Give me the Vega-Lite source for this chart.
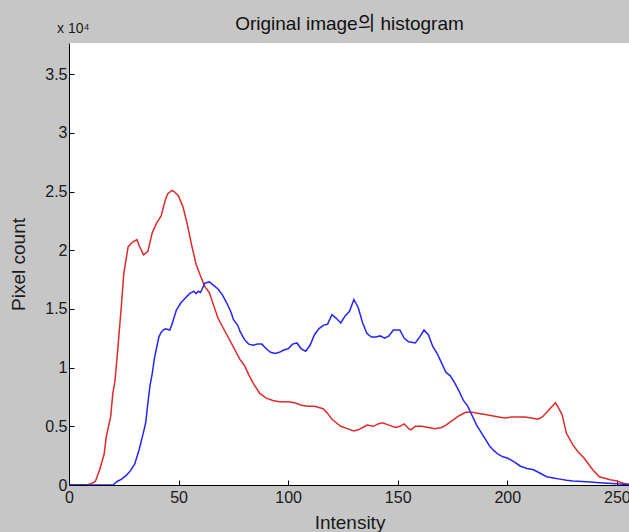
{
  "$schema": "https://vega.github.io/schema/vega-lite/v6.json",
  "autosize": {"type": "none"},
  "width": 561,
  "height": 442,
  "padding": {"left": 69, "top": 43, "right": 0, "bottom": 47},
  "background": "#c6c6c6",
  "title": {
    "text": "Original image의 histogram",
    "font": "Liberation Sans, Noto Sans CJK KR",
    "fontSize": 19,
    "fontWeight": "normal",
    "color": "#111111",
    "anchor": "middle",
    "offset": -12
  },
  "config": {
    "view": {"fill": "white", "stroke": null},
    "font": "Liberation Sans",
    "axis": {
      "domainColor": "#000000",
      "domainWidth": 1,
      "tickColor": "#000000",
      "tickSize": -5,
      "grid": false,
      "labelFont": "Liberation Sans",
      "labelFontSize": 16,
      "labelColor": "#1a1a1a",
      "titleFont": "Liberation Sans",
      "titleFontSize": 19,
      "titleFontWeight": "normal",
      "titleColor": "#1a1a1a"
    }
  },
  "datasets": {
    "red": [
      {"intensity": 0, "count": 0}, {"intensity": 8, "count": 0}, {"intensity": 10, "count": 100},
      {"intensity": 12, "count": 300}, {"intensity": 14, "count": 1300}, {"intensity": 16, "count": 2600},
      {"intensity": 17, "count": 4100}, {"intensity": 19, "count": 5800}, {"intensity": 20, "count": 7800},
      {"intensity": 21, "count": 8900}, {"intensity": 22, "count": 11000}, {"intensity": 24, "count": 15500},
      {"intensity": 25, "count": 18000}, {"intensity": 27, "count": 20300}, {"intensity": 29, "count": 20700},
      {"intensity": 31, "count": 20900}, {"intensity": 32, "count": 20400}, {"intensity": 34, "count": 19600},
      {"intensity": 36, "count": 19900}, {"intensity": 38, "count": 21500}, {"intensity": 40, "count": 22300},
      {"intensity": 42, "count": 22900}, {"intensity": 44, "count": 24300}, {"intensity": 45, "count": 24800},
      {"intensity": 47, "count": 25100}, {"intensity": 48, "count": 25000}, {"intensity": 50, "count": 24600},
      {"intensity": 52, "count": 23700}, {"intensity": 54, "count": 22200}, {"intensity": 56, "count": 20400},
      {"intensity": 58, "count": 18800}, {"intensity": 60, "count": 17800}, {"intensity": 62, "count": 16900},
      {"intensity": 64, "count": 16400}, {"intensity": 66, "count": 15300}, {"intensity": 68, "count": 14200},
      {"intensity": 70, "count": 13500}, {"intensity": 72, "count": 12800}, {"intensity": 74, "count": 12100},
      {"intensity": 76, "count": 11400}, {"intensity": 78, "count": 10700}, {"intensity": 80, "count": 10200},
      {"intensity": 82, "count": 9400}, {"intensity": 84, "count": 8700}, {"intensity": 87, "count": 7800},
      {"intensity": 90, "count": 7400}, {"intensity": 93, "count": 7200}, {"intensity": 96, "count": 7100},
      {"intensity": 100, "count": 7100}, {"intensity": 103, "count": 7000}, {"intensity": 106, "count": 6800},
      {"intensity": 109, "count": 6700}, {"intensity": 112, "count": 6700}, {"intensity": 114, "count": 6600},
      {"intensity": 116, "count": 6500}, {"intensity": 118, "count": 6100}, {"intensity": 120, "count": 5600},
      {"intensity": 122, "count": 5300}, {"intensity": 124, "count": 5000}, {"intensity": 127, "count": 4800},
      {"intensity": 130, "count": 4600}, {"intensity": 132, "count": 4700}, {"intensity": 134, "count": 4900},
      {"intensity": 136, "count": 5100}, {"intensity": 139, "count": 5000}, {"intensity": 141, "count": 5200},
      {"intensity": 143, "count": 5300}, {"intensity": 146, "count": 5100}, {"intensity": 149, "count": 4900},
      {"intensity": 151, "count": 5000}, {"intensity": 153, "count": 5200}, {"intensity": 155, "count": 4800},
      {"intensity": 156, "count": 4700}, {"intensity": 158, "count": 5000}, {"intensity": 161, "count": 5000},
      {"intensity": 164, "count": 4900}, {"intensity": 167, "count": 4800}, {"intensity": 170, "count": 4900},
      {"intensity": 172, "count": 5100}, {"intensity": 175, "count": 5500}, {"intensity": 178, "count": 5900},
      {"intensity": 181, "count": 6200}, {"intensity": 184, "count": 6200}, {"intensity": 187, "count": 6100},
      {"intensity": 190, "count": 6000}, {"intensity": 193, "count": 5900}, {"intensity": 196, "count": 5800},
      {"intensity": 199, "count": 5700}, {"intensity": 202, "count": 5800}, {"intensity": 205, "count": 5800},
      {"intensity": 208, "count": 5800}, {"intensity": 211, "count": 5700}, {"intensity": 214, "count": 5600},
      {"intensity": 216, "count": 5800}, {"intensity": 218, "count": 6200}, {"intensity": 220, "count": 6600},
      {"intensity": 222, "count": 7000}, {"intensity": 223, "count": 6700}, {"intensity": 225, "count": 6000},
      {"intensity": 227, "count": 4400}, {"intensity": 230, "count": 3400}, {"intensity": 232, "count": 2900},
      {"intensity": 235, "count": 2300}, {"intensity": 239, "count": 1300}, {"intensity": 242, "count": 700},
      {"intensity": 244, "count": 600}, {"intensity": 247, "count": 450}, {"intensity": 250, "count": 350},
      {"intensity": 253, "count": 150}, {"intensity": 256, "count": 50}
    ],
    "blue": [
      {"intensity": 0, "count": 0}, {"intensity": 20, "count": 0}, {"intensity": 22, "count": 300},
      {"intensity": 24, "count": 500}, {"intensity": 26, "count": 800}, {"intensity": 28, "count": 1200},
      {"intensity": 30, "count": 1800}, {"intensity": 32, "count": 3000}, {"intensity": 34, "count": 4500},
      {"intensity": 35, "count": 5300}, {"intensity": 36, "count": 7000}, {"intensity": 37, "count": 8500},
      {"intensity": 38, "count": 9500}, {"intensity": 39, "count": 10800}, {"intensity": 41, "count": 12600},
      {"intensity": 42, "count": 13000}, {"intensity": 43, "count": 13200}, {"intensity": 44, "count": 13300},
      {"intensity": 46, "count": 13200}, {"intensity": 47, "count": 13700}, {"intensity": 49, "count": 14900},
      {"intensity": 51, "count": 15500}, {"intensity": 53, "count": 15900}, {"intensity": 55, "count": 16300},
      {"intensity": 57, "count": 16500}, {"intensity": 58, "count": 16300}, {"intensity": 59, "count": 16500},
      {"intensity": 60, "count": 16400}, {"intensity": 62, "count": 17200}, {"intensity": 64, "count": 17300},
      {"intensity": 66, "count": 17000}, {"intensity": 68, "count": 16700}, {"intensity": 70, "count": 16200},
      {"intensity": 72, "count": 15500}, {"intensity": 74, "count": 14700}, {"intensity": 75, "count": 14100},
      {"intensity": 77, "count": 13600}, {"intensity": 78, "count": 13100}, {"intensity": 80, "count": 12400},
      {"intensity": 82, "count": 12000}, {"intensity": 84, "count": 11900}, {"intensity": 86, "count": 12000},
      {"intensity": 88, "count": 12000}, {"intensity": 90, "count": 11600}, {"intensity": 92, "count": 11300},
      {"intensity": 94, "count": 11200}, {"intensity": 96, "count": 11300}, {"intensity": 98, "count": 11500},
      {"intensity": 100, "count": 11600}, {"intensity": 102, "count": 12000}, {"intensity": 104, "count": 12100},
      {"intensity": 106, "count": 11600}, {"intensity": 108, "count": 11400}, {"intensity": 110, "count": 11900},
      {"intensity": 112, "count": 12800}, {"intensity": 114, "count": 13300}, {"intensity": 116, "count": 13600},
      {"intensity": 118, "count": 13700}, {"intensity": 120, "count": 14500}, {"intensity": 122, "count": 14200},
      {"intensity": 124, "count": 13800}, {"intensity": 126, "count": 14400}, {"intensity": 128, "count": 14800},
      {"intensity": 130, "count": 15800}, {"intensity": 132, "count": 15100}, {"intensity": 134, "count": 13800},
      {"intensity": 136, "count": 12900}, {"intensity": 138, "count": 12600}, {"intensity": 140, "count": 12600},
      {"intensity": 142, "count": 12700}, {"intensity": 144, "count": 12500}, {"intensity": 146, "count": 12700},
      {"intensity": 148, "count": 13200}, {"intensity": 151, "count": 13200}, {"intensity": 153, "count": 12500},
      {"intensity": 155, "count": 12200}, {"intensity": 158, "count": 12100}, {"intensity": 160, "count": 12600},
      {"intensity": 162, "count": 13200}, {"intensity": 164, "count": 12800}, {"intensity": 166, "count": 11800},
      {"intensity": 168, "count": 11200}, {"intensity": 170, "count": 10400}, {"intensity": 172, "count": 9600},
      {"intensity": 174, "count": 9300}, {"intensity": 176, "count": 8700}, {"intensity": 178, "count": 8000},
      {"intensity": 180, "count": 7200}, {"intensity": 182, "count": 6700}, {"intensity": 184, "count": 5900},
      {"intensity": 186, "count": 5100}, {"intensity": 188, "count": 4500}, {"intensity": 190, "count": 3900},
      {"intensity": 192, "count": 3300}, {"intensity": 194, "count": 2900}, {"intensity": 196, "count": 2600},
      {"intensity": 198, "count": 2400}, {"intensity": 200, "count": 2300}, {"intensity": 203, "count": 2000},
      {"intensity": 206, "count": 1600}, {"intensity": 209, "count": 1400}, {"intensity": 212, "count": 1300},
      {"intensity": 215, "count": 1000}, {"intensity": 218, "count": 700}, {"intensity": 221, "count": 600},
      {"intensity": 224, "count": 500}, {"intensity": 227, "count": 400}, {"intensity": 230, "count": 350},
      {"intensity": 234, "count": 300}, {"intensity": 238, "count": 250}, {"intensity": 242, "count": 200},
      {"intensity": 246, "count": 150}, {"intensity": 250, "count": 100}, {"intensity": 254, "count": 50},
      {"intensity": 256, "count": 30}
    ],
    "note": [{"label": "x 10⁴"}]
  },
  "layer": [
    {
      "data": {"name": "red"},
      "mark": {"type": "line", "color": "#e02a2a", "strokeWidth": 1.5, "clip": true},
      "encoding": {
        "x": {
          "field": "intensity", "type": "quantitative",
          "scale": {"domain": [0, 256], "nice": false, "zero": false},
          "axis": {"values": [0, 50, 100, 150, 200, 250], "title": "Intensity", "labelPadding": 9, "titlePadding": 8, "labelFlush": false}
        },
        "y": {
          "field": "count", "type": "quantitative",
          "scale": {"domain": [0, 37650], "nice": false},
          "axis": {
            "values": [0, 5000, 10000, 15000, 20000, 25000, 30000, 35000],
            "labelExpr": "'' + datum.value / 10000",
            "title": "Pixel count", "labelPadding": 7, "titlePadding": 16, "labelFlush": false
          }
        }
      }
    },
    {
      "data": {"name": "blue"},
      "mark": {"type": "line", "color": "#2424ff", "strokeWidth": 1.5, "clip": true},
      "encoding": {
        "x": {"field": "intensity", "type": "quantitative"},
        "y": {"field": "count", "type": "quantitative"}
      }
    },
    {
      "data": {"name": "note"},
      "mark": {"type": "text", "align": "left", "baseline": "alphabetic", "dx": -12, "dy": -10, "fontSize": 14, "font": "Liberation Sans", "color": "#1a1a1a"},
      "encoding": {
        "text": {"field": "label"},
        "x": {"datum": 0, "type": "quantitative"},
        "y": {"datum": 37650, "type": "quantitative"}
      }
    }
  ]
}
